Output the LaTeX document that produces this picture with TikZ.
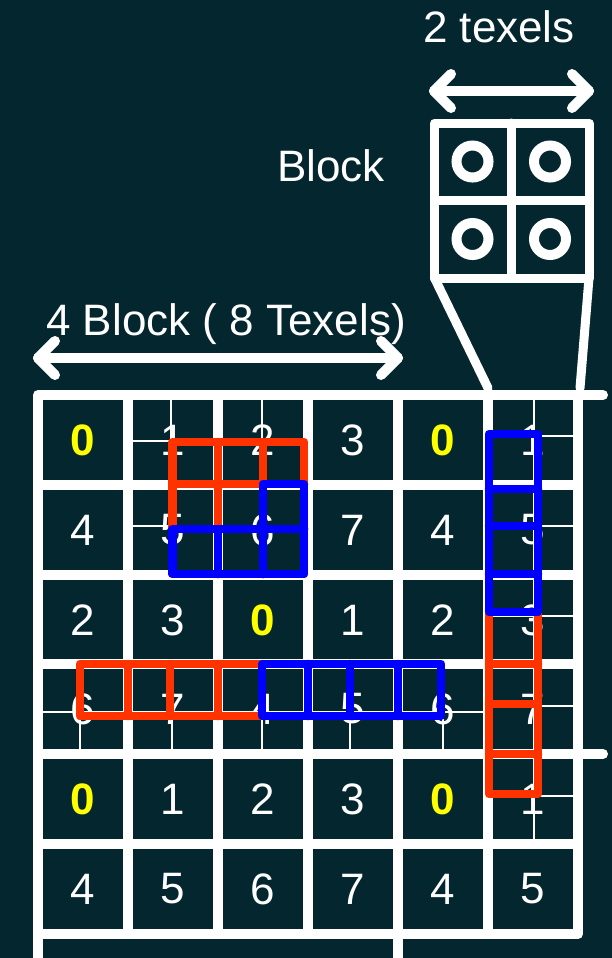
\documentclass[tikz,border=0pt]{standalone}
\usepackage{fontspec}
\setmainfont{Liberation Sans}
\definecolor{bg}{RGB}{4,38,47}
\definecolor{rd}{RGB}{255,51,0}
\definecolor{bl}{RGB}{0,0,255}
\definecolor{yl}{RGB}{255,255,0}
\begin{document}
\begin{tikzpicture}[x=1pt,y=-1pt,
  gridline/.style={white,line width=10pt},
  thinline/.style={white,line width=2pt},
  dig/.style={text=white,font=\fontsize{44}{44}\selectfont,inner sep=0pt,anchor=center},
  zero/.style={text=yl,font=\fontsize{44}{44}\selectfont\bfseries,inner sep=0pt,anchor=center},
  lbl/.style={text=white,font=\fontsize{44}{44}\selectfont,inner sep=0pt,anchor=base},
  strip/.style={line width=8.5pt,line join=round,line cap=round},
  arr/.style={white,line width=10pt,line cap=round,line join=round},
  blk/.style={white,line width=9pt,line join=round,line cap=round}]
\fill[bg] (0,0) rectangle (612,958);
\useasboundingbox (0,0) rectangle (612,958);

% thin texel subdivision lines
\draw[thinline] (171,400) -- (171,570) (262,400) -- (262,570);
\draw[thinline] (133,441) -- (303,441) (133,526) -- (303,526);
\draw[thinline] (43,712) -- (483,712);
\foreach \x in {80,172,262,350,443} \draw[thinline] (\x,669) -- (\x,749);
\draw[thinline] (534,400) -- (534,839);
\foreach \y in {436,526,616,706,796} \draw[thinline] (493,\y) -- (573,\y);

% main grid
\draw[gridline,line cap=round,line join=round] (603,395) -- (38,395) -- (38,975);
\draw[gridline,line join=round] (38,934) -- (578,934) -- (578,395);
\draw[gridline,line cap=round] (38,754) -- (603,754);
\foreach \y in {485,575,664,844} \draw[gridline] (38,\y) -- (578,\y);
\foreach \x in {128,218,308,488} \draw[gridline] (\x,395) -- (\x,934);
\draw[gridline] (398,395) -- (398,975);

% digits
\node[zero] (d00) at (83,440) {0};
\node[dig]  (d01) at (173,440) {1};
\node[dig]  (d02) at (263,440) {2};
\node[dig]  (d03) at (353,440) {3};
\node[zero] (d04) at (443,440) {0};
\node[dig]  (d05) at (533,440) {1};
\node[dig]  (d10) at (83,530) {4};
\node[dig]  (d11) at (173,530) {5};
\node[dig]  (d12) at (263,530) {6};
\node[dig]  (d13) at (353,530) {7};
\node[dig]  (d14) at (443,530) {4};
\node[dig]  (d15) at (533,530) {5};
\node[dig]  (d20) at (83,620) {2};
\node[dig]  (d21) at (173,620) {3};
\node[zero] (d22) at (263,620) {0};
\node[dig]  (d23) at (353,620) {1};
\node[dig]  (d24) at (443,620) {2};
\node[dig]  (d25) at (533,620) {3};
\node[dig]  (d30) at (83,709) {6};
\node[dig]  (d31) at (173,709) {7};
\node[dig]  (d32) at (263,709) {4};
\node[dig]  (d33) at (353,709) {5};
\node[dig]  (d34) at (443,709) {6};
\node[dig]  (d35) at (533,709) {7};
\node[zero] (d40) at (83,799) {0};
\node[dig]  (d41) at (173,799) {1};
\node[dig]  (d42) at (263,799) {2};
\node[dig]  (d43) at (353,799) {3};
\node[zero] (d44) at (443,799) {0};
\node[dig]  (d45) at (533,799) {1};
\node[dig]  (d50) at (83,889) {4};
\node[dig]  (d51) at (173,889) {5};
\node[dig]  (d52) at (263,889) {6};
\node[dig]  (d53) at (353,889) {7};
\node[dig]  (d54) at (443,889) {4};
\node[dig]  (d55) at (533,889) {5};

% labels
\node[lbl] (t2) at (499,43) {2 texels};
\node[lbl] (tb) at (331,181) {Block};
\node[lbl] (t4) at (226,335) {4 Block ( 8 Texels)};

% dimension arrows
\coordinate (wl) at (38,358);
\coordinate (wr) at (398,358);
\draw[arr] (wl) -- (wr);
\draw[arr] (55,341) -- (wl) -- (55,375);
\draw[arr] (381,341) -- (wr) -- (381,375);
\coordinate (bl1) at (434,91);
\coordinate (br1) at (589,91);
\draw[arr] (bl1) -- (br1);
\draw[arr] (451,74) -- (bl1) -- (451,108);
\draw[arr] (572,74) -- (br1) -- (572,108);

% block
\draw[blk] (434.5,123) rectangle (589,278);
\draw[blk] (511,123) -- (511,278) (434.5,200.5) -- (589,200.5);
\foreach \cx/\cy in {472.5/161.5,550/161.5,472.5/239,550/239}
  \draw[white,line width=10pt] (\cx,\cy) circle[radius=16];
\draw[blk] (434.5,278) -- (488,388);
\draw[blk] (589,278) -- (580,388);

% red 3x3 footprint
\draw[strip,rd] (172.5,442) rectangle (304,574);
\draw[strip,rd] (218,442) -- (218,574) (263,442) -- (263,574)
  (172.5,484) -- (304,484) (172.5,529) -- (304,529);
% blue footprint
\draw[strip,bl] (263,529) -- (263,484) -- (304,484) -- (304,574) -- (172.5,574) -- (172.5,529) -- cycle;
\draw[strip,bl] (218,529) -- (218,574) (263,529) -- (263,574) (263,529) -- (304,529);

% horizontal strip
\draw[strip,rd] (80,664) rectangle (262,716);
\foreach \x in {128,170,218} \draw[strip,rd] (\x,664) -- (\x,716);
\draw[strip,bl] (262,664) rectangle (441,716);
\foreach \x in {308,350,398} \draw[strip,bl] (\x,664) -- (\x,716);

% vertical strip
\draw[strip,rd] (489,612) rectangle (538,794);
\foreach \y in {664,704,754} \draw[strip,rd] (489,\y) -- (538,\y);
\draw[strip,bl] (489,434) rectangle (538,612);
\foreach \y in {489,526,574} \draw[strip,bl] (489,\y) -- (538,\y);
\end{tikzpicture}
\end{document}
